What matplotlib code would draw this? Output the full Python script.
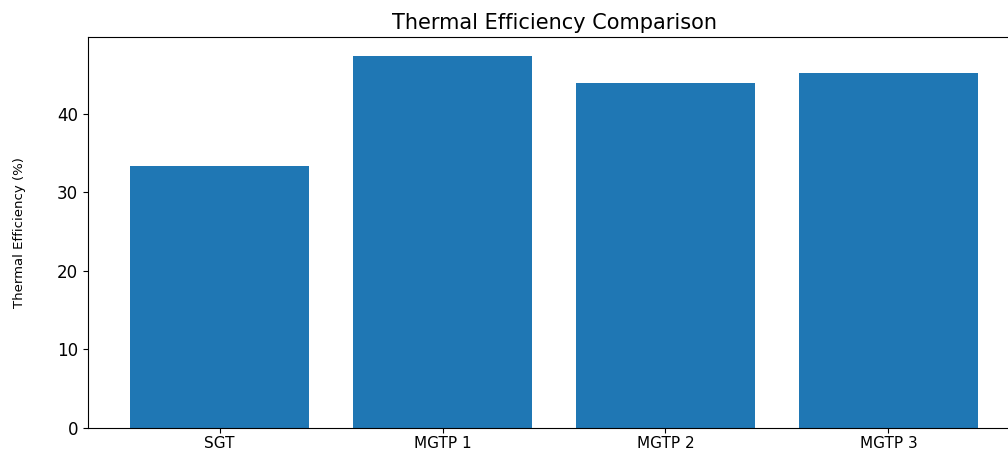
import matplotlib
matplotlib.use("Agg")
import matplotlib.pyplot as plt

systems = ["SGT", "MGTP 1", "MGTP 2", "MGTP 3"]
efficiency = [33.4, 47.4, 43.9, 45.2]

fig = plt.figure(figsize=(10.08, 4.49), dpi=100)
ax = fig.add_axes([88 / 1008, 21 / 449, 932 / 1008, 391 / 449])

ax.bar(systems, efficiency, color="#1f77b4")
ax.set_ylim(0, 49.8)
ax.set_title("Thermal Efficiency Comparison", fontsize=15)
ax.set_ylabel("Thermal Efficiency (%)", fontsize=9.5)
ax.yaxis.set_label_coords(-0.066, 0.5)
ax.tick_params(axis="y", labelsize=12)
ax.tick_params(axis="x", labelsize=11, pad=2)

fig.savefig("out.png", dpi=100)
